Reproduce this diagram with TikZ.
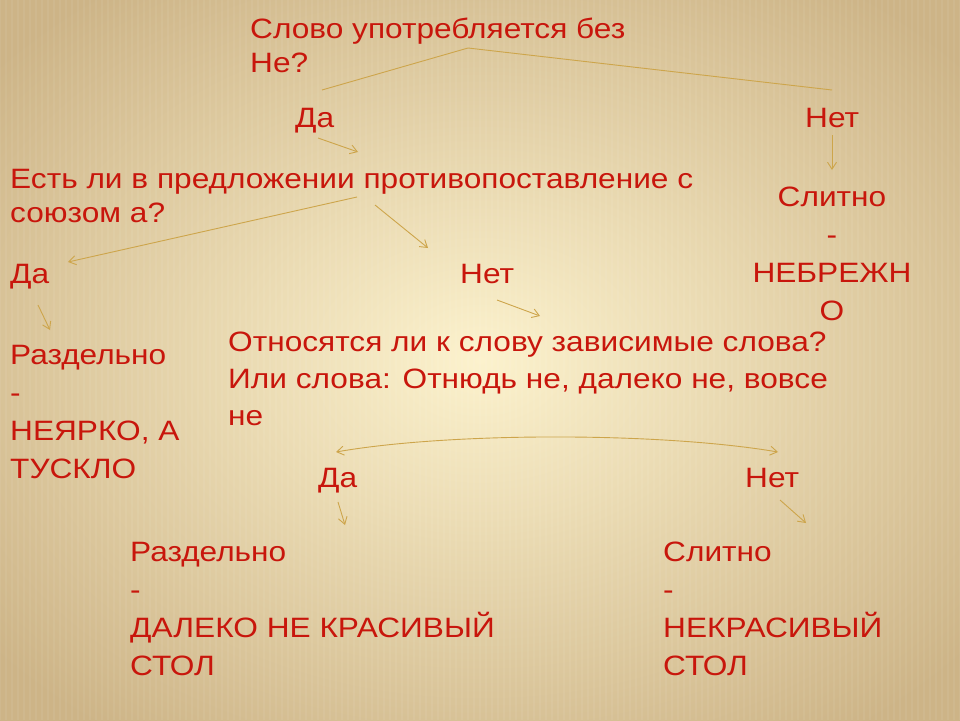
\documentclass[tikz,border=0pt]{standalone}
\usepackage{fontspec}
\setmainfont{Liberation Sans}[FakeStretch=1.13]
\usetikzlibrary{arrows.meta}
\definecolor{txt}{RGB}{200,22,12}
\definecolor{ln}{RGB}{205,165,75}
\definecolor{bgin}{RGB}{252,242,205}
\definecolor{bgout}{RGB}{205,180,135}
\begin{document}
\begin{tikzpicture}[x=1pt,y=-1pt,
  t/.style={anchor=base west,inner sep=0,text=txt,font=\fontsize{28}{38}\selectfont,align=left},
  tc/.style={anchor=base,inner sep=0,text=txt,font=\fontsize{28}{38}\selectfont,align=center},
  tt/.style={font=\fontsize{28}{34}\selectfont},
  con/.style={draw=ln,line width=0.9pt},
  arr/.style={con,-{Straight Barb[length=7pt,width=9pt]}}]
\useasboundingbox (0,0) rectangle (960,720);
\shade[inner color=bgin,outer color=bgout] (-150,-100) rectangle (1110,820);
\foreach \i in {0,6,...,960} \draw[white,opacity=0.06,line width=1.5pt] (\i,0)--(\i,720);
\node[t,tt] (q1) at (250,72) {Слово употребляется без\\Не?};
\node[t] (da1) at (295,127) {Да};
\node[t] (net1) at (805,127) {Нет};
\node[t,tt] (q2) at (10,222) {Есть ли в предложении противопоставление с\\союзом а?};
\node[tc] (sl1) at (832,320) {Слитно\\-\\НЕБРЕЖН\\О};
\node[t] (da2) at (10,283) {Да};
\node[t] (net2) at (460,283) {Нет};
\node[t] (r1) at (10,478) {Раздельно\\-\\НЕЯРКО, А\\ТУСКЛО};
\node[t,font=\fontsize{28}{37}\selectfont] (q3) at (228,425) {Относятся ли к слову зависимые слова?\\Или слова: Отнюдь не, далеко не, вовсе\\не};
\node[t] (da3) at (318,487) {Да};
\node[t] (net3) at (745,487) {Нет};
\node[t] (r2) at (130,675) {Раздельно\\-\\ДАЛЕКО НЕ КРАСИВЫЙ\\СТОЛ};
\node[t] (s2) at (663,675) {Слитно\\-\\НЕКРАСИВЫЙ\\СТОЛ};
\coordinate (p0) at (468,48);
\draw[con] (322,90) -- (p0) -- (832,90);
\draw[arr] (318,138) -- (358,152);
\draw[arr] (832,135) -- (832,170);
\draw[arr] (357,197) -- (68,262);
\draw[arr] (375,205) -- (428,248);
\draw[arr] (38,305) -- (50,330);
\draw[arr] (497,300) -- (540,316);
\draw[con,{Straight Barb[length=7pt,width=9pt]}-{Straight Barb[length=7pt,width=9pt]}] (336,452) .. controls (450,432) and (660,432) .. (778,452);
\draw[arr] (338,502) -- (345,525);
\draw[arr] (780,500) -- (806,523);
\end{tikzpicture}
\end{document}
